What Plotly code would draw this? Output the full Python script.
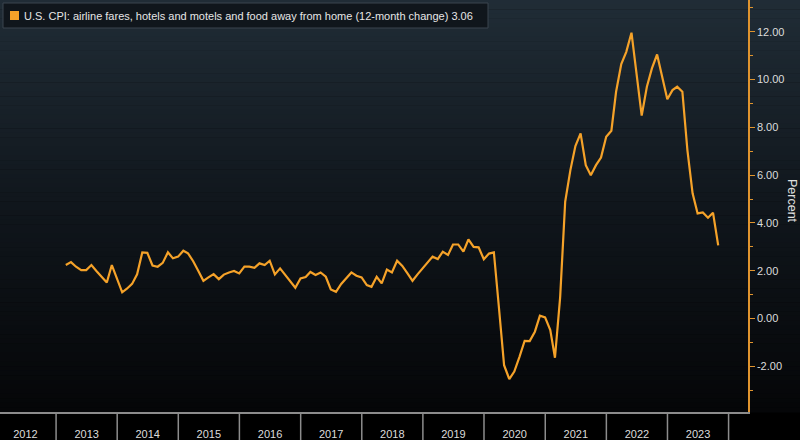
import plotly.graph_objects as go
import pandas as pd

# ---- data (12-month % change, monthly, Feb 2013 .. Oct 2023) ----
start_month = "2013-02-28"
values = [
    2.24, 2.36, 2.17, 2.03, 2.03, 2.24, 1.98, 1.75, 1.51, 2.24, 1.67,          # 2013 Feb-Dec
    1.10, 1.25, 1.45, 1.85, 2.77, 2.75, 2.22, 2.17, 2.33, 2.77, 2.52, 2.59,    # 2014
    2.84, 2.73, 2.40, 2.00, 1.58, 1.72, 1.86, 1.65, 1.84, 1.93, 1.99, 1.89,    # 2015
    2.17, 2.17, 2.12, 2.31, 2.24, 2.42, 1.85, 2.10, 1.82, 1.55, 1.29, 1.68,    # 2016
    1.74, 1.95, 1.82, 1.93, 1.75, 1.22, 1.12, 1.45, 1.70, 1.93, 1.79, 1.72,    # 2017
    1.40, 1.33, 1.75, 1.47, 2.05, 1.93, 2.42, 2.20, 1.90, 1.58, 1.85, 2.10,    # 2018
    2.35, 2.59, 2.49, 2.80, 2.66, 3.10, 3.10, 2.80, 3.31, 3.00, 2.98, 2.48,    # 2019
    2.72, 2.77, 0.40, -1.95, -2.53, -2.22, -1.60, -0.93, -0.94, -0.55, 0.12, 0.05,  # 2020
    -0.48, -1.64, 0.90, 4.89, 6.21, 7.22, 7.75, 6.42, 6.00, 6.42, 6.74, 7.61,  # 2021
    7.86, 9.49, 10.65, 11.16, 11.96, 10.19, 8.49, 9.70, 10.47, 11.05, 10.12, 9.18,  # 2022
    9.56, 9.70, 9.49, 7.05, 5.24, 4.40, 4.44, 4.22, 4.43, 3.06,                # 2023 Jan-Oct
]
try:
    dates = pd.date_range(start_month, periods=len(values), freq="ME")
except Exception:
    dates = pd.date_range(start_month, periods=len(values), freq="M")

series_name = "U.S. CPI: airline fares, hotels and motels and food away from home (12-month change)"
last_value_label = "3.06"
years = list(range(2012, 2025))
y_ticks = [-2, 0, 2, 4, 6, 8, 10, 12]

# ---- styling ----
W, H = 800, 440
ORANGE = "#f5a229"
AXIS_ORANGE = "#e0942e"
TEXT = "#dcdcdc"
FONT = "Liberation Sans"

x_dom_right = 748 / W
y_dom_bottom = (H - 412) / H

fig = go.Figure()
fig.add_trace(go.Scatter(
    x=dates, y=values, mode="lines",
    line=dict(color=ORANGE, width=2.2),
    name=series_name, hoverinfo="x+y",
))

shapes = []
# vertical gradient background (top slate-blue -> black)
top = (32, 44, 54)
mid = (16, 22, 28)
bot = (5, 6, 8)
N = 90
gy_top, gy_bot = 0, 412
for i in range(N):
    t = i / (N - 1)
    if t < 0.5:
        u = t / 0.5
        c = [round(top[j] + (mid[j] - top[j]) * u) for j in range(3)]
    else:
        u = (t - 0.5) / 0.5
        c = [round(mid[j] + (bot[j] - mid[j]) * u) for j in range(3)]
    py0 = gy_top + (gy_bot - gy_top) * i / N
    py1 = gy_top + (gy_bot - gy_top) * (i + 1) / N
    shapes.append(dict(
        type="rect", xref="paper", yref="paper", layer="below",
        x0=0, x1=1, y0=1 - py1 / H - 0.001, y1=1 - py0 / H,
        fillcolor="rgb(%d,%d,%d)" % tuple(c), line=dict(width=0),
    ))

# year separators below the time axis
for yr in years:
    shapes.append(dict(
        type="line", xref="x", yref="paper", layer="above",
        x0="%d-01-01" % yr, x1="%d-01-01" % yr, y0=0, y1=y_dom_bottom,
        line=dict(color="#8c8c8c", width=1.5),
    ))

# legend box
shapes.append(dict(
    type="rect", xref="paper", yref="paper", layer="above",
    x0=3 / W, x1=488 / W, y0=1 - 28 / H, y1=1 - 3 / H,
    fillcolor="#10161c", line=dict(color="#3a444e", width=1),
))
shapes.append(dict(
    type="rect", xref="paper", yref="paper", layer="above",
    x0=10 / W, x1=19 / W, y0=1 - 20 / H, y1=1 - 11 / H,
    fillcolor=ORANGE, line=dict(width=0),
))

annotations = [
    dict(
        text=f"{series_name} {last_value_label}",
        xref="paper", yref="paper", x=22 / W, y=1 - 15.5 / H,
        xanchor="left", yanchor="middle", showarrow=False,
        font=dict(family=FONT, size=11, color="#e6e6e6"),
    ),
    dict(
        text="Percent", textangle=90,
        xref="paper", yref="paper", x=792 / W, y=1 - 201 / H,
        xanchor="center", yanchor="middle", showarrow=False,
        font=dict(family=FONT, size=12.5, color="#e0e0e0"),
    ),
]

fig.update_layout(
    width=W, height=H,
    margin=dict(l=0, r=0, t=0, b=0, autoexpand=False),
    paper_bgcolor="black",
    plot_bgcolor="rgba(0,0,0,0)",
    showlegend=False,
    shapes=shapes,
    annotations=annotations,
    font=dict(family=FONT, color=TEXT, size=11),
    xaxis=dict(
        domain=[0, x_dom_right],
        automargin=False,
        type="date",
        range=["2012-02-01", "2024-04-26"],
        tick0="2012-01-01", dtick="M12", tickformat="%Y",
        ticklabelmode="period",
        ticks="outside", ticklen=11, tickcolor="rgba(0,0,0,0)",
        showline=True, linecolor="#8c8c8c", linewidth=2,
        showgrid=False, zeroline=False,
        tickfont=dict(family=FONT, size=11, color=TEXT),
    ),
    yaxis=dict(
        domain=[y_dom_bottom, 1],
        automargin=False,
        side="right",
        range=[-3.91, 13.33],
        tickmode="array", tickvals=y_ticks,
        ticktext=["%.2f" % v for v in y_ticks],
        ticks="outside", ticklen=5, tickcolor=AXIS_ORANGE, tickwidth=1,
        minor=dict(ticks="outside", ticklen=3, tickcolor=AXIS_ORANGE,
                   tickmode="linear", tick0=-3, dtick=2),
        showline=True, linecolor=AXIS_ORANGE, linewidth=1.5,
        showgrid=False, zeroline=False,
        tickfont=dict(family=FONT, size=11, color=TEXT),
    ),
)

fig.write_html(
    "out.html",
    config={"displayModeBar": False},
    post_script="document.body.style.margin='0';document.body.style.overflow='hidden';",
)
